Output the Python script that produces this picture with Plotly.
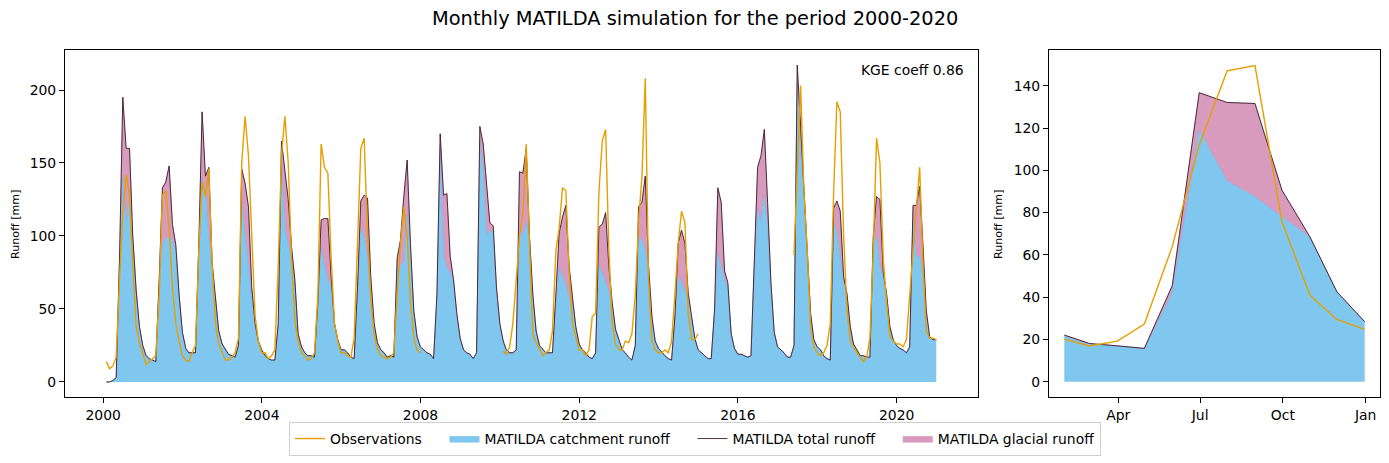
import pandas as pd
import plotly.graph_objects as go

# ---------------- data ----------------
dates = pd.date_range(start="2000-01-31", periods=252, freq=pd.offsets.MonthEnd())

total_runoff = [
    0, 0, 1, 3, 85, 195, 160, 160, 100, 63, 38, 25,          # 2000
    18, 16, 15, 14, 70, 133, 137, 148, 108, 94, 60, 34,      # 2001
    23, 20, 20, 20, 95, 185, 141, 147, 82, 58, 35, 26,       # 2002
    22, 19, 18, 17, 25, 146, 136, 120, 65, 40, 28, 22,       # 2003
    18, 16, 15, 15, 40, 165, 145, 125, 93, 70, 33, 24,       # 2004
    20, 18, 18, 17, 55, 111, 112, 112, 72, 40, 29, 22,       # 2005
    22, 20, 17, 16, 65, 124, 128, 126, 72, 40, 27, 22,       # 2006
    20, 17, 18, 17, 85, 97, 127, 152, 95, 49, 31, 24,        # 2007
    22, 20, 19, 16, 60, 170, 128, 129, 86, 70, 47, 30,       # 2008
    22, 20, 19, 16, 20, 175, 163, 135, 109, 107, 65, 40,     # 2009
    28, 22, 20, 20, 22, 144, 143, 160, 100, 60, 35, 25,      # 2010
    22, 20, 20, 20, 60, 102, 113, 121, 79, 56, 38, 26,       # 2011
    22, 20, 17, 16, 20, 106, 108, 116, 79, 54, 36, 29,       # 2012
    22, 20, 17, 15, 25, 120, 123, 141, 80, 45, 28, 23,       # 2013
    20, 18, 16, 15, 45, 95, 104, 95, 61, 45, 30, 22,         # 2014
    20, 18, 16, 16, 50, 133, 123, 76, 68, 33, 23, 19,        # 2015
    19, 18, 17, 18, 80, 147, 155, 173, 123, 68, 34, 24,      # 2016
    22, 20, 17, 17, 25, 217, 175, 132, 86, 47, 29, 24,       # 2017
    22, 18, 16, 15, 119, 124, 117, 72, 61, 38, 26, 22,       # 2018
    18, 18, 17, 17, 100, 127, 125, 75, 61, 38, 29, 25,       # 2019
    23, 22, 20, 24, 121, 121, 134, 93, 49, 31, 29, 29,       # 2020
]

catchment_runoff = [
    0, 0, 1, 3, 80, 140, 110, 125, 97, 62, 38, 25,           # 2000
    18, 16, 15, 14, 68, 95, 98, 100, 97, 90, 60, 34,         # 2001
    23, 20, 20, 20, 92, 140, 130, 100, 78, 57, 35, 26,       # 2002
    22, 19, 18, 17, 25, 125, 100, 80, 60, 39, 28, 22,        # 2003
    18, 16, 15, 15, 38, 150, 105, 95, 85, 68, 33, 24,        # 2004
    20, 18, 18, 17, 52, 92, 80, 70, 65, 39, 29, 22,          # 2005
    22, 20, 17, 16, 62, 105, 100, 85, 65, 39, 27, 22,        # 2006
    20, 17, 18, 17, 78, 80, 82, 115, 90, 48, 31, 24,         # 2007
    22, 20, 19, 16, 58, 160, 86, 78, 75, 68, 45, 29,         # 2008
    22, 20, 19, 16, 20, 165, 145, 101, 103, 104, 63, 40,     # 2009
    28, 22, 20, 20, 22, 105, 100, 110, 95, 58, 35, 25,       # 2010
    22, 20, 20, 20, 55, 78, 72, 66, 58, 52, 38, 26,          # 2011
    22, 20, 17, 16, 20, 80, 75, 68, 62, 50, 36, 29,          # 2012
    22, 20, 17, 15, 25, 100, 97, 90, 72, 43, 28, 23,         # 2013
    20, 18, 16, 15, 43, 72, 68, 63, 55, 43, 30, 22,          # 2014
    20, 18, 16, 16, 48, 88, 78, 70, 65, 33, 23, 19,          # 2015
    19, 18, 17, 18, 78, 118, 111, 128, 105, 66, 34, 24,      # 2016
    22, 20, 17, 17, 25, 205, 160, 125, 84, 46, 29, 24,       # 2017
    22, 18, 16, 15, 110, 102, 84, 68, 58, 37, 26, 22,        # 2018
    18, 18, 17, 17, 95, 100, 79, 72, 58, 37, 29, 25,         # 2019
    23, 22, 20, 24, 110, 86, 86, 75, 45, 30, 29, 29,         # 2020
]

N = None
observations = [
    14, 9, 11, 17, 70, 115, 142, 128, 80, 38, 27, 19,        # 2000
    12, 14, 16, 18, 60, 128, 131, 105, 65, 40, 28, 18,       # 2001
    15, 14, 20, 25, 90, 137, 127, 146, 81, 40, 26, 20,       # 2002
    15, 15, 17, 20, 30, 150, 182, 155, 100, 45, 28, 20,      # 2003
    20, 16, 18, 22, 80, 155, 182, 150, 85, 42, 28, 20,       # 2004
    18, 15, 16, 20, 60, 163, 147, 143, 85, 40, 28, 20,       # 2005
    20, 18, 17, 30, 95, 160, 167, 100, 56, 33, 22, 18,       # 2006
    17, 16, 17, 20, 60, 95, 120, 100, 55, 30, 22, 20,        # 2007
    N, N, N, N, N, N, N, N, N, N, N, N,                      # 2008
    N, N, N, N, N, N, N, N, N, N, N, N,                      # 2009
    21, 19, 24, 40, 70, 100, 115, 163, 95, 32, 27, 22,       # 2010
    18, 20, 22, 35, 90, 105, 133, 131, 75, 40, 30, 22,       # 2011
    22, 18, 22, 45, 47, 130, 165, 173, 90, 40, 26, 22,       # 2012
    22, 28, 27, 33, 60, 110, 140, 208, 70, 28, 22, 20,       # 2013
    20, 22, 20, 28, 60, 95, 117, 109, 47, 29, 29, 33,        # 2014
    N, N, N, N, N, N, N, N, N, N, N, N,                      # 2015
    N, N, N, N, N, N, N, N, N, N, N, N,                      # 2016
    N, N, N, N, 87, 145, 203, 130, 90, 38, 24, 20,           # 2017
    18, 20, 25, 40, 130, 192, 185, 100, 50, 28, 24, 20,      # 2018
    17, 14, 17, 30, 90, 167, 150, 84, 55, 31, 28, 26,        # 2019
    26, 24, 29, 61, 90, 118, 147, 80, 35, 30, 30, 29,        # 2020
]

# annual cycle (monthly means)
cycle_dates = pd.date_range(start="2001-01-31", periods=12, freq=pd.offsets.MonthEnd())
cycle_total = [22.1, 18.1, 17.0, 15.8, 45.4, 136.7, 132.1, 131.6, 90.6, 68.6, 42.6, 28.4]
cycle_catchment = [21.6, 17.8, 16.9, 15.5, 42.1, 119.0, 95.0, 87.5, 78.0, 68.6, 42.6, 28.4]
cycle_obs = [20.2, 16.9, 19.2, 27.3, 63.9, 112.0, 147.0, 149.5, 75.7, 41.0, 29.5, 24.8]

main_tick_years = ["2000", "2004", "2008", "2012", "2016", "2020"]
cycle_tick_dates = ["2001-04-01", "2001-07-01", "2001-10-01", "2002-01-01"]
cycle_tick_labels = ["Apr", "Jul", "Oct", "Jan"]

title_text = "Monthly MATILDA simulation for the period 2000-2020"
kge_text = "KGE coeff 0.86"

# ---------------- styles ----------------
W, H = 1389, 463
FONT = "DejaVu Sans"
C_OBS = "#E69F00"
C_CATCH = "rgba(86,180,233,0.75)"
C_GLAC = "rgba(204,121,167,0.75)"
C_TOTAL = "#3a1f2c"
PAD = "\u00a0\u00a0\u00a0\u00a0"

fig = go.Figure()

for i, (xx, tot, cat, ob) in enumerate([
        (dates, total_runoff, catchment_runoff, observations),
        (cycle_dates, cycle_total, cycle_catchment, cycle_obs)]):
    xa = "x" if i == 0 else "x2"
    ya = "y" if i == 0 else "y2"
    show = i == 0
    fig.add_trace(go.Scatter(
        x=xx, y=cat, mode="lines", name="MATILDA catchment runoff" + PAD,
        line=dict(width=0.6, color=C_CATCH), fill="tozeroy", fillcolor=C_CATCH,
        xaxis=xa, yaxis=ya, showlegend=show, legendrank=2, hoverinfo="skip"))
    fig.add_trace(go.Scatter(
        x=xx, y=tot, mode="lines", name="MATILDA glacial runoff",
        line=dict(width=0.6, color=C_GLAC), fill="tonexty", fillcolor=C_GLAC,
        xaxis=xa, yaxis=ya, showlegend=show, legendrank=4, hoverinfo="skip"))
    fig.add_trace(go.Scatter(
        x=xx, y=tot, mode="lines", name="MATILDA total runoff" + PAD,
        line=dict(width=0.9, color=C_TOTAL),
        xaxis=xa, yaxis=ya, showlegend=show, legendrank=3))
    fig.add_trace(go.Scatter(
        x=xx, y=ob, mode="lines", name="Observations" + PAD,
        line=dict(width=1.4, color=C_OBS), connectgaps=False,
        xaxis=xa, yaxis=ya, showlegend=show, legendrank=1))

def px_x(p):
    return p / W

def px_y(p):
    return 1 - p / H

axis_common = dict(
    showline=True, mirror=True, linecolor="black", linewidth=1.1,
    ticks="outside", ticklen=5, tickwidth=1.1, tickcolor="black",
    showgrid=False, zeroline=False,
    tickfont=dict(family=FONT, size=13.9, color="black"),
)

fig.update_layout(
    width=W, height=H,
    margin=dict(l=0, r=0, t=0, b=0),
    paper_bgcolor="white", plot_bgcolor="white",
    font=dict(family=FONT, color="black"),
    xaxis=dict(domain=[px_x(65), px_x(978)], anchor="y",
               range=["1999-01-15", "2022-01-19"],
               tickvals=[y + "-01-01" for y in main_tick_years],
               ticktext=main_tick_years, **axis_common),
    yaxis=dict(domain=[px_y(397), px_y(50)], anchor="x",
               range=[-10.3, 227.4], tickvals=[0, 50, 100, 150, 200], **axis_common),
    xaxis2=dict(domain=[px_x(1049), px_x(1380)], anchor="y2",
                range=["2001-01-14", "2002-01-17"],
                tickvals=cycle_tick_dates, ticktext=cycle_tick_labels, **axis_common),
    yaxis2=dict(domain=[px_y(397), px_y(50)], anchor="x2",
                range=[-7.2, 156.9], tickvals=[0, 20, 40, 60, 80, 100, 120, 140],
                **axis_common),
    legend=dict(orientation="h", x=px_x(695), xanchor="center", y=px_y(439), yanchor="middle",
                font=dict(family=FONT, size=13.9, color="black"),
                bordercolor="#d0d0d0", borderwidth=1, bgcolor="white",
                traceorder="normal"),
    showlegend=True,
    annotations=[
        dict(text=title_text, xref="paper", yref="paper", x=px_x(695), y=px_y(18),
             xanchor="center", yanchor="middle", showarrow=False,
             font=dict(family=FONT, size=19.4, color="black")),
        dict(text=kge_text, xref="paper", yref="paper", x=px_x(966), y=px_y(70),
             xanchor="right", yanchor="middle", showarrow=False,
             font=dict(family=FONT, size=13.9, color="black")),
        dict(text="Runoff [mm]", xref="paper", yref="paper", x=px_x(16), y=px_y(224),
             xanchor="center", yanchor="middle", textangle=-90, showarrow=False,
             font=dict(family=FONT, size=11.1, color="black")),
        dict(text="Runoff [mm]", xref="paper", yref="paper", x=px_x(999), y=px_y(224),
             xanchor="center", yanchor="middle", textangle=-90, showarrow=False,
             font=dict(family=FONT, size=11.1, color="black")),
    ],
)

fig.write_html("out.html", config={"displayModeBar": False},
               post_script="document.body.style.margin='0';document.body.style.overflow='hidden';")
